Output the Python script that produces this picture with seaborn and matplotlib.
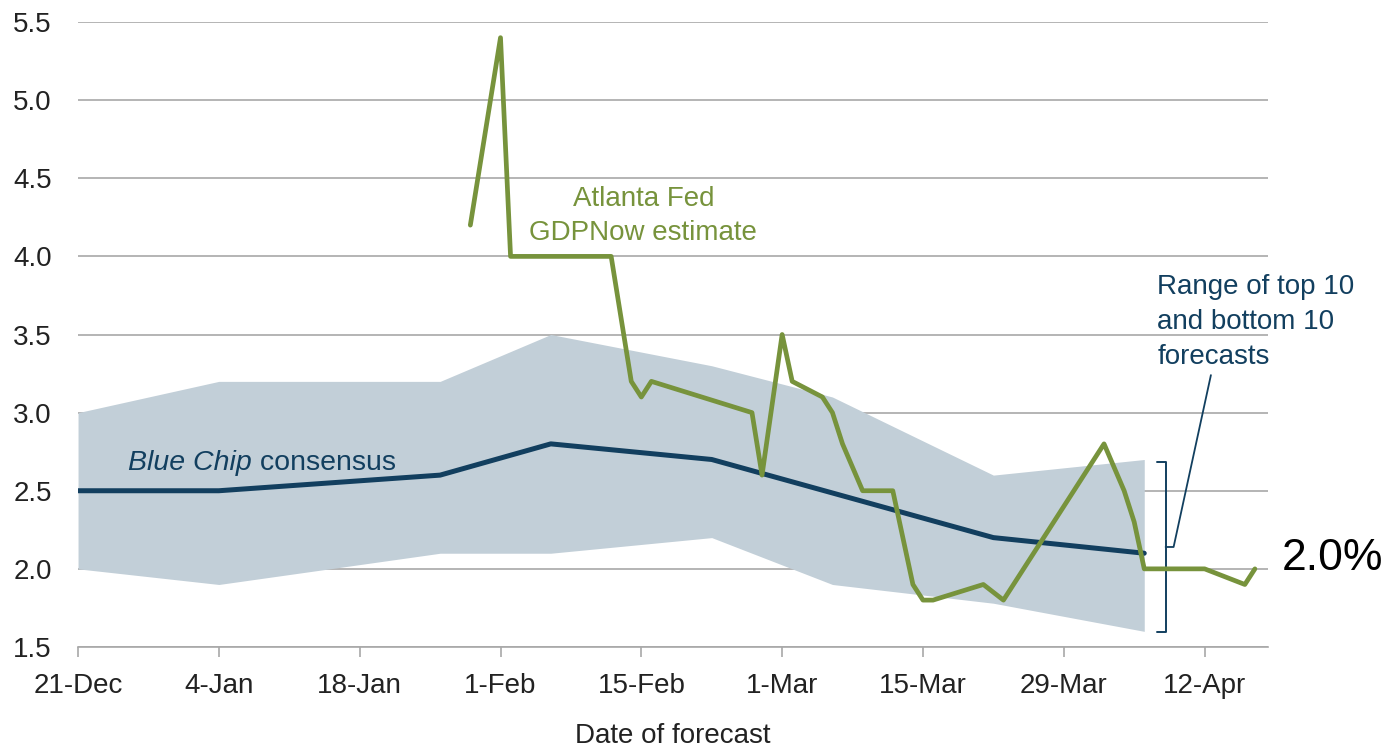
import seaborn as sns
import pandas as pd
import numpy as np
import matplotlib.pyplot as plt

# GDP forecasts for Q1, by date of forecast
gdpnow_dates = ['2017-01-29', '2017-02-01', '2017-02-02', '2017-02-12', '2017-02-14',
                '2017-02-15', '2017-02-16', '2017-02-26', '2017-02-27', '2017-03-01',
                '2017-03-02', '2017-03-05', '2017-03-06', '2017-03-07', '2017-03-09',
                '2017-03-12', '2017-03-14', '2017-03-15', '2017-03-16', '2017-03-21',
                '2017-03-23', '2017-04-02', '2017-04-04', '2017-04-05', '2017-04-06',
                '2017-04-12', '2017-04-16', '2017-04-17']
gdpnow_values = [4.2, 5.4, 4.0, 4.0, 3.2,
                 3.1, 3.2, 3.0, 2.6, 3.5,
                 3.2, 3.1, 3.0, 2.8, 2.5,
                 2.5, 1.9, 1.8, 1.8, 1.9,
                 1.8, 2.8, 2.5, 2.3, 2.0,
                 2.0, 1.9, 2.0]

bluechip_dates = ['2016-12-21', '2017-01-04', '2017-01-26', '2017-02-06',
                  '2017-02-22', '2017-03-22', '2017-04-06']
bluechip_values = [2.5, 2.5, 2.6, 2.8, 2.7, 2.2, 2.1]

range_dates = ['2016-12-21', '2017-01-04', '2017-01-26', '2017-02-06',
               '2017-02-22', '2017-03-06', '2017-03-22', '2017-04-06']
range_top = [3.0, 3.2, 3.2, 3.5, 3.3, 3.1, 2.6, 2.7]
range_bottom = [2.0, 1.9, 2.1, 2.1, 2.2, 1.9, 1.78, 1.6]

tick_dates = ['2016-12-21', '2017-01-04', '2017-01-18', '2017-02-01', '2017-02-15',
              '2017-03-01', '2017-03-15', '2017-03-29', '2017-04-12']
tick_labels = ['21-Dec', '4-Jan', '18-Jan', '1-Feb', '15-Feb', '1-Mar', '15-Mar', '29-Mar', '12-Apr']

green = '#77933c'
navy = '#123f5f'
band = '#c2cfd8'
grid = '#a8a8a8'
txt = '#222222'

gdpnow = pd.DataFrame({'date': pd.to_datetime(gdpnow_dates), 'value': gdpnow_values})
bluechip = pd.DataFrame({'date': pd.to_datetime(bluechip_dates), 'value': bluechip_values})
rng = pd.DataFrame({'date': pd.to_datetime(range_dates), 'top': range_top, 'bottom': range_bottom})

sns.set_theme(style='white')
plt.rcParams['font.family'] = ['Liberation Sans', 'DejaVu Sans']

fig = plt.figure(figsize=(13.96, 7.47), dpi=100)
ax = fig.add_axes([0.0559, 0.1339, 0.8524, 0.8366])

ax.fill_between(rng['date'], rng['bottom'], rng['top'], color=band, lw=0, zorder=1)
sns.lineplot(data=bluechip, x='date', y='value', color=navy, lw=3.6, ax=ax, zorder=3)
sns.lineplot(data=gdpnow, x='date', y='value', color=green, lw=3.4, ax=ax, zorder=4)

start = pd.Timestamp('2016-12-21')
ax.set_xlim(start, start + pd.Timedelta(days=118.3))
ax.set_ylim(1.5, 5.5)
yt = np.arange(1.5, 5.51, 0.5)
ax.set_yticks(yt)
ax.set_yticklabels([f'{v:.1f}' for v in yt], fontsize=20, color=txt)
ax.set_xticks(pd.to_datetime(tick_dates))
ax.set_xticklabels(tick_labels, fontsize=20, color=txt)

ax.grid(axis='y', color=grid, lw=1.2, zorder=0)
ax.grid(axis='x', visible=False)
ax.set_axisbelow(True)
for s in ['top', 'right', 'left']:
    ax.spines[s].set_visible(False)
ax.spines['bottom'].set_color(grid)
ax.spines['bottom'].set_linewidth(1.2)
ax.tick_params(axis='x', length=7, width=1.2, color=grid, direction='out', pad=12, bottom=True)
ax.tick_params(axis='y', length=0, pad=19)
ax.set_xlabel('Date of forecast', fontsize=20, color=txt, labelpad=17)
ax.set_ylabel('')

# labels
ax.text(pd.Timestamp('2017-02-15 05:00'), 4.26, 'Atlanta Fed\nGDPNow estimate', color=green,
        fontsize=20, ha='center', va='center', linespacing=1.39)
t = ax.text(pd.Timestamp('2016-12-26'), 2.63, 'Blue Chip', color=navy, fontsize=20.5,
            style='italic', va='baseline')
ax.annotate(' consensus', xy=(1, 0), xycoords=t, color=navy, fontsize=20.5, va='bottom')
ax.text(pd.Timestamp('2017-04-07 07:00'), 3.58, 'Range of top 10\nand bottom 10\nforecasts',
        color=navy, fontsize=20, ha='left', va='center', linespacing=1.47)

# bracket for the range
bx = pd.Timestamp('2017-04-08 03:00')
bl = pd.Timestamp('2017-04-07 07:00')
ax.plot([bl, bx, bx, bl], [2.683, 2.683, 1.596, 1.596], color=navy, lw=1.4, clip_on=False)
ax.plot([bx, pd.Timestamp('2017-04-08 22:00'), pd.Timestamp('2017-04-12 15:00')],
        [2.14, 2.14, 3.24], color=navy, lw=1.3, clip_on=False)

fig.text(0.918, 0.253, '2.0%', fontsize=32, color='black', ha='left', va='center')

plt.savefig('out.png', dpi=100)
